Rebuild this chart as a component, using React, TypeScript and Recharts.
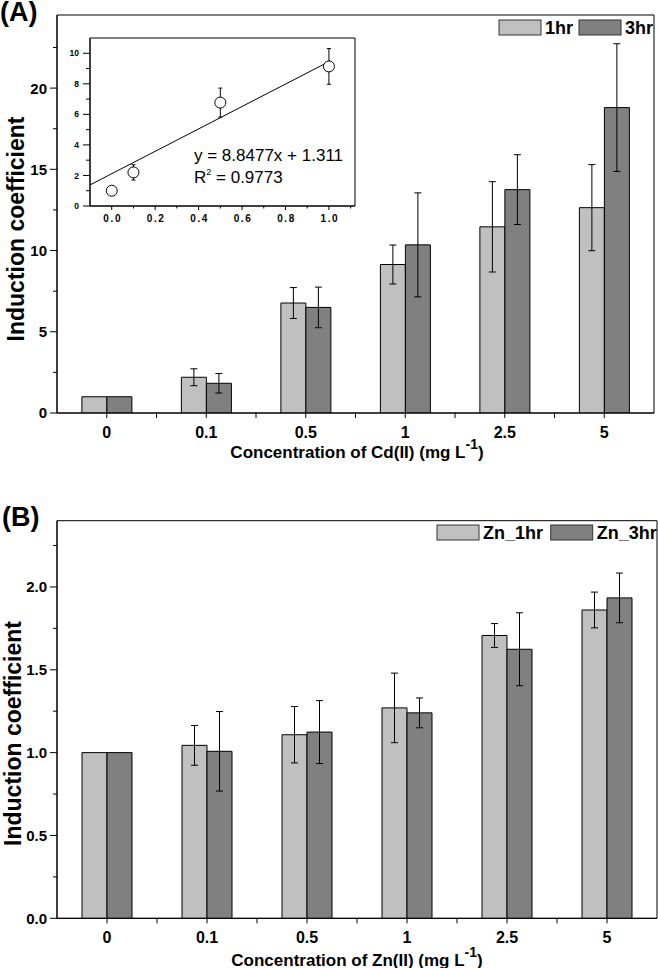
import {
  BarChart,
  Bar,
  XAxis,
  YAxis,
  ErrorBar,
  ReferenceArea,
  ComposedChart,
  Scatter,
  Line,
} from "recharts";

// categories (mg L-1)
const CONC = ["0", "0.1", "0.5", "1", "2.5", "5"];

// panel A: Cd(II)
const CD_NAMES = ["1hr", "3hr"];
const CD_1HR = [1.0, 2.2, 6.77, 9.14, 11.46, 12.64];
const CD_1HR_ERR = [0, 0.52, 0.95, 1.2, 2.78, 2.65];
const CD_3HR = [1.0, 1.83, 6.5, 10.35, 13.75, 18.8];
const CD_3HR_ERR = [0, 0.6, 1.25, 3.2, 2.15, 3.93];
const CD_Y_TICKS = [0, 2.5, 5, 7.5, 10, 12.5, 15, 17.5, 20, 22.5];
const CD_Y_LABELS = [0, 5, 10, 15, 20];

// panel B: Zn(II)
const ZN_NAMES = ["Zn_1hr", "Zn_3hr"];
const ZN_1HR = [1.0, 1.044, 1.108, 1.27, 1.707, 1.861];
const ZN_1HR_ERR = [0, 0.12, 0.17, 0.21, 0.072, 0.108];
const ZN_3HR = [1.0, 1.008, 1.124, 1.24, 1.624, 1.934];
const ZN_3HR_ERR = [0, 0.24, 0.19, 0.09, 0.22, 0.15];
const ZN_Y_TICKS = [0, 0.25, 0.5, 0.75, 1, 1.25, 1.5, 1.75, 2, 2.25];
const ZN_Y_LABELS = [0, 0.5, 1, 1.5, 2];

// inset: linear fit of Cd 1hr at low concentration
const INSET_X = [0, 0.1, 0.5, 1.0];
const INSET_Y = [1.0, 2.2, 6.77, 9.14];
const INSET_ERR = [0, 0.5, 0.95, 1.17];
const FIT_X = [-0.1, 1.0];
const FIT_Y = [1.38, 9.45];
const INSET_X_TICKS = [0, 0.1, 0.2, 0.3, 0.4, 0.5, 0.6, 0.7, 0.8, 0.9, 1.0, 1.1];
const INSET_X_LABELS = [0, 0.2, 0.4, 0.6, 0.8, 1.0];
const INSET_Y_TICKS = [0, 1, 2, 3, 4, 5, 6, 7, 8, 9, 10];
const INSET_Y_LABELS = [0, 2, 4, 6, 8, 10];

const FONT = "'Liberation Sans', Arial, Helvetica, sans-serif";
const LIGHT = "#c0c0c0";
const DARK = "#808080";
const Y_AXIS_W = 57;

const cdData = CONC.map((c, i) => ({
  c,
  a: CD_1HR[i],
  ae: CD_1HR_ERR[i],
  b: CD_3HR[i],
  be: CD_3HR_ERR[i],
}));
const znData = CONC.map((c, i) => ({
  c,
  a: ZN_1HR[i],
  ae: ZN_1HR_ERR[i],
  b: ZN_3HR[i],
  be: ZN_3HR_ERR[i],
}));
const insetPts = INSET_X.map((x, i) => ({ x, y: INSET_Y[i], e: INSET_ERR[i] }));
const fitPts = FIT_X.map((x, i) => ({ x, y: FIT_Y[i] }));

function YTick(props: any) {
  const { x, y, payload, labels, fmt, size, major = 7, minor = 4, gap = 10 } = props;
  const isMajor = labels.includes(payload.value);
  return (
    <g>
      <line x1={x - (isMajor ? major : minor)} x2={x} y1={y} y2={y} stroke="#000" />
      {isMajor && (
        <text
          x={x - gap}
          y={y}
          dy="0.36em"
          textAnchor="end"
          fontSize={size}
          fontWeight="bold"
          fontFamily={FONT}
          fill="#000"
        >
          {fmt(payload.value)}
        </text>
      )}
    </g>
  );
}

function XCatTick(props: any) {
  const { x, y, payload, index, half } = props;
  return (
    <g>
      <line x1={x} x2={x} y1={y} y2={y + 5} stroke="#000" />
      {index > 0 && <line x1={x - half} x2={x - half} y1={y} y2={y + 5} stroke="#000" />}
      <text
        x={x}
        y={y + 25}
        textAnchor="middle"
        fontSize={16}
        fontWeight="bold"
        fontFamily={FONT}
        fill="#000"
      >
        {payload.value}
      </text>
    </g>
  );
}

function InsetXTick(props: any) {
  const { x, y, payload } = props;
  const isMajor = INSET_X_LABELS.includes(payload.value);
  return (
    <g>
      <line x1={x} x2={x} y1={y} y2={y + (isMajor ? 4 : 2.5)} stroke="#000" />
      {isMajor && (
        <text
          x={x + 1}
          y={y + 15.5}
          textAnchor="middle"
          fontSize={10}
          letterSpacing={1.6}
          fontWeight="bold"
          fontFamily={FONT}
          fill="#000"
        >
          {payload.value.toFixed(1)}
        </text>
      )}
    </g>
  );
}

function OpenCircle(props: any) {
  return <circle cx={props.cx} cy={props.cy} r={5.5} fill="#fff" stroke="#000" strokeWidth={1} />;
}

function BarPanel({ data, yDomain, yTicks, yLabels, fmt, width, height, margin }: any) {
  const plotW = width - margin.left - margin.right - Y_AXIS_W;
  const half = plotW / data.length / 2;
  return (
    <BarChart
      width={width}
      height={height}
      data={data}
      margin={margin}
      barGap={0}
      barCategoryGap="25%"
    >
      <XAxis
        dataKey="c"
        interval={0}
        height={30}
        tickLine={false}
        tickSize={0}
        tickMargin={0}
        axisLine={{ stroke: "#000" }}
        tick={(p: any) => <XCatTick {...p} half={half} />}
      />
      <YAxis
        type="number"
        domain={yDomain}
        ticks={yTicks}
        interval={0}
        allowDataOverflow
        width={Y_AXIS_W}
        tickLine={false}
        tickSize={0}
        tickMargin={0}
        axisLine={{ stroke: "#000" }}
        tick={(p: any) => <YTick {...p} labels={yLabels} fmt={fmt} size={15} />}
      />
      <Bar dataKey="a" fill={LIGHT} stroke="#000" strokeWidth={1} isAnimationActive={false}>
        <ErrorBar dataKey="ae" width={3.5} stroke="#000" strokeWidth={1} isAnimationActive={false} />
      </Bar>
      <Bar dataKey="b" fill={DARK} stroke="#000" strokeWidth={1} isAnimationActive={false}>
        <ErrorBar dataKey="be" width={3.5} stroke="#000" strokeWidth={1} isAnimationActive={false} />
      </Bar>
      <ReferenceArea y1={yDomain[0]} y2={yDomain[1]} fill="none" stroke="#000" strokeWidth={1} />
    </BarChart>
  );
}

function Inset() {
  return (
    <ComposedChart width={300} height={200} margin={{ top: 8, right: 5, left: 0, bottom: 4 }}>
      <XAxis
        type="number"
        dataKey="x"
        domain={[-0.1, 1.12]}
        ticks={INSET_X_TICKS}
        interval={0}
        allowDataOverflow
        height={20}
        tickLine={false}
        tickSize={0}
        tickMargin={0}
        axisLine={{ stroke: "#000" }}
        tick={(p: any) => <InsetXTick {...p} />}
      />
      <YAxis
        type="number"
        dataKey="y"
        domain={[0, 11]}
        ticks={INSET_Y_TICKS}
        interval={0}
        allowDataOverflow
        width={30}
        tickLine={false}
        tickSize={0}
        tickMargin={0}
        axisLine={{ stroke: "#000" }}
        tick={(p: any) => (
          <YTick {...p} labels={INSET_Y_LABELS} fmt={(v: number) => String(v)} size={8.5} major={7} minor={4} gap={11} />
        )}
      />
      <ReferenceArea x1={-0.1} x2={1.12} y1={0} y2={11} fill="none" stroke="#000" strokeWidth={1} />
      <Line
        data={fitPts}
        dataKey="y"
        type="linear"
        stroke="#000"
        strokeWidth={1}
        dot={false}
        activeDot={false}
        isAnimationActive={false}
      />
      <Scatter data={insetPts} dataKey="y" shape={OpenCircle} isAnimationActive={false}>
        <ErrorBar dataKey="e" direction="y" width={2} stroke="#000" strokeWidth={1} isAnimationActive={false} />
      </Scatter>
    </ComposedChart>
  );
}

function LegendItems({ names, x, y, textW }: { names: string[]; x: number; y: number; textW: number[] }) {
  const fills = [LIGHT, DARK];
  let cx = x;
  return (
    <g>
      {names.map((n, i) => {
        const bx = cx;
        cx += 42 + 4 + textW[i];
        return (
          <g key={n}>
            <rect x={bx} y={y} width={42} height={15} fill={fills[i]} stroke="#333" strokeWidth={1} />
            <text x={bx + 46} y={y + 13.5} fontSize={18} fontWeight="bold" fontFamily={FONT} fill="#000">
              {n}
            </text>
          </g>
        );
      })}
    </g>
  );
}

export default function App() {
  const fmtInt = (v: number) => String(v);
  const fmt1 = (v: number) => v.toFixed(1);
  return (
    <div style={{ position: "absolute", left: 0, top: 0, width: 658, height: 968, background: "#fff" }}>
      <style>{"html,body{margin:0;padding:0;overflow:hidden;}"}</style>
      <div style={{ position: "absolute", left: 0, top: 0 }}>
        <BarPanel
          data={cdData}
          yDomain={[0, 24.5]}
          yTicks={CD_Y_TICKS}
          yLabels={CD_Y_LABELS}
          fmt={fmtInt}
          width={658}
          height={470}
          margin={{ top: 15, right: 4, left: 0, bottom: 27 }}
        />
      </div>
      <div style={{ position: "absolute", left: 60, top: 30 }}>
        <Inset />
      </div>
      <div style={{ position: "absolute", left: 0, top: 480 }}>
        <BarPanel
          data={znData}
          yDomain={[0, 2.4]}
          yTicks={ZN_Y_TICKS}
          yLabels={ZN_Y_LABELS}
          fmt={fmt1}
          width={658}
          height={488}
          margin={{ top: 40.7, right: 1, left: 0, bottom: 19.7 }}
        />
      </div>
      <svg
        width={658}
        height={968}
        style={{ position: "absolute", left: 0, top: 0, pointerEvents: "none" }}
      >
        <text x={0} y={21} fontSize={27} fontWeight="bold" fontFamily={FONT}>(A)</text>
        <text x={2} y={526} fontSize={27} fontWeight="bold" fontFamily={FONT}>(B)</text>

        <text transform="translate(24,229) rotate(-90)" textAnchor="middle" fontSize={23} fontWeight="bold" fontFamily={FONT}>
          Induction coefficient
        </text>
        <text transform="translate(20.5,733.5) rotate(-90)" textAnchor="middle" fontSize={23} fontWeight="bold" fontFamily={FONT}>
          Induction coefficient
        </text>

        <text x={357} y={458} textAnchor="middle" fontSize={17} fontWeight="bold" fontFamily={FONT}>
          Concentration of Cd(II) (mg L<tspan fontSize={14} dy={-9}>-1</tspan><tspan dy={9}>)</tspan>
        </text>
        <text x={357} y={966} textAnchor="middle" fontSize={17} fontWeight="bold" fontFamily={FONT}>
          Concentration of Zn(II) (mg L<tspan fontSize={14} dy={-9}>-1</tspan><tspan dy={9}>)</tspan>
        </text>

        <text x={194} y={160.7} fontSize={17} fontFamily={FONT}>y = 8.8477x + 1.311</text>
        <text x={194} y={183.3} fontSize={17} fontFamily={FONT}>
          R<tspan fontSize={9} dy={-8}>2</tspan><tspan dy={8}> = 0.9773</tspan>
        </text>

        <LegendItems names={CD_NAMES} x={499} y={20} textW={[34]} />
        <LegendItems names={ZN_NAMES} x={437} y={525} textW={[67.7]} />
      </svg>
    </div>
  );
}
